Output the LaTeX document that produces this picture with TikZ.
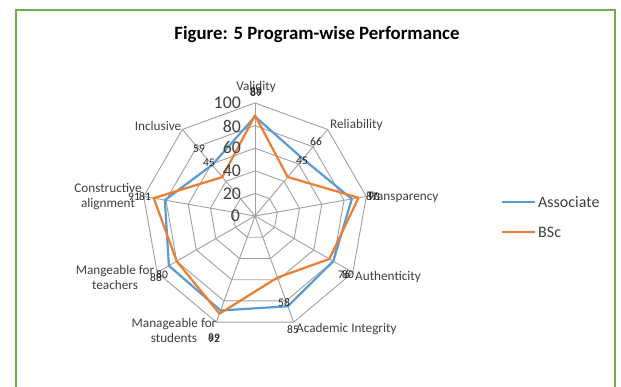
\documentclass[tikz,border=0pt]{standalone}
\usepackage{fontspec}
\setmainfont{Carlito}
\definecolor{assocblue}{RGB}{91,155,213}
\definecolor{bscorange}{RGB}{237,125,49}
\definecolor{framegreen}{RGB}{112,173,71}
\definecolor{gridgray}{RGB}{160,160,160}
\definecolor{labgray}{RGB}{64,64,64}
\begin{document}
\begin{tikzpicture}[x=1pt,y=-1pt,
  grid/.style={draw=gridgray, line width=0.9pt},
  assoc/.style={draw=assocblue, line width=2.2pt, line join=round},
  bsc/.style={draw=bscorange, line width=2.2pt, line join=round},
  cat/.style={font=\fontsize{13.2}{15}\selectfont, text=labgray, inner sep=0pt, align=center},
  tick/.style={font=\fontsize{17.8}{18}\selectfont, text=labgray, inner sep=0pt, anchor=east},
  dlab/.style={font=\fontsize{11.5}{12}\selectfont, text=black!85, inner sep=0pt},
  leg/.style={font=\fontsize{16}{18}\selectfont, text=labgray, inner sep=0pt, anchor=west},
  title/.style={font=\bfseries\fontsize{18.8}{20}\selectfont, text=black, inner sep=0pt}
]
\useasboundingbox (0,0) rectangle (621,387);
\fill[white] (0,0) rectangle (621,387);
\draw[framegreen, line width=2.5pt] (16,400) -- (16,10) -- (615,10) -- (615,400);

\node[title] (title) at (317,35) {Figure: 5 Program-wise Performance};

% centre and grid
\coordinate (O) at (255,216);
\foreach \k in {1,...,5}{
  \draw[grid] ({255+22.6*\k*cos(-90)},{216+22.6*\k*sin(-90)})
    \foreach \i in {1,...,8}{ -- ({255+22.6*\k*cos(40*\i-90)},{216+22.6*\k*sin(40*\i-90)}) } -- cycle;
}
\foreach \i in {0,...,8}{
  \coordinate (V\i) at ({255+113*cos(40*\i-90)},{216+113*sin(40*\i-90)});
  \draw[grid] (O) -- (V\i);
}

% data
\foreach \v [count=\i from 0] in {88,66,87,80,85,89,88,81,59}{
  \coordinate (A\i) at ({255+1.13*\v*cos(40*\i-90)},{216+1.13*\v*sin(40*\i-90)});
}
\foreach \v [count=\i from 0] in {89,45,93,76,58,92,80,91,45}{
  \coordinate (B\i) at ({255+1.13*\v*cos(40*\i-90)},{216+1.13*\v*sin(40*\i-90)});
}
\draw[assoc] (A0) -- (A1) -- (A2) -- (A3) -- (A4) -- (A5) -- (A6) -- (A7) -- (A8) -- cycle;
\draw[bsc] (B0) -- (B1) -- (B2) -- (B3) -- (B4) -- (B5) -- (B6) -- (B7) -- (B8) -- cycle;

% axis tick labels
\node[tick] (t100) at (241,103) {100};
\node[tick] (t80) at (241,126) {80};
\node[tick] (t60) at (241,148) {60};
\node[tick] (t40) at (241,171) {40};
\node[tick] (t20) at (241,194) {20};
\node[tick] (t0) at (240,216) {0};

% category labels
\node[cat] (cVal) at (256,87) {Validity};
\node[cat, anchor=west] (cRel) at (330,125) {Reliability};
\node[cat, anchor=west] (cTra) at (367,197) {Transparency};
\node[cat, anchor=west] (cAut) at (355,277) {Authenticity};
\node[cat, anchor=west] (cAca) at (296,329) {Academic Integrity};
\node[cat] (cStu) at (174,330) {Manageable for\\students};
\node[cat] (cTea) at (115,277) {Mangeable for\\teachers};
\node[cat] (cCon) at (108,197) {Constructive\\alignment};
\node[cat] (cInc) at (158,126) {Inclusive};

% data labels
\node[dlab] (dA0) at (256,92) {88};
\node[dlab] (dB0) at (256,93) {89};
\node[dlab] (dA1) at (316,142) {66};
\node[dlab] (dB1) at (302,161) {45};
\node[dlab] (dA2) at (372,197) {87};
\node[dlab] (dB2) at (374,197) {93};
\node[dlab] (dA3) at (348,275) {80};
\node[dlab] (dB3) at (344,275) {76};
\node[dlab] (dA4) at (293,330) {85};
\node[dlab] (dB4) at (284,303) {58};
\node[dlab] (dA5) at (214,338) {89};
\node[dlab] (dB5) at (214,339) {92};
\node[dlab] (dA6) at (156,278) {88};
\node[dlab] (dB6) at (162,275) {80};
\node[dlab] (dA7) at (145,197) {81};
\node[dlab] (dB7) at (134,197) {91};
\node[dlab] (dA8) at (199,149) {59};
\node[dlab] (dB8) at (209,163) {45};

% legend
\coordinate (LA1) at (502,202); \coordinate (LA2) at (535,202);
\coordinate (LB1) at (502,232); \coordinate (LB2) at (535,232);
\draw[assoc] (LA1) -- (LA2);
\draw[bsc] (LB1) -- (LB2);
\node[leg] (lA) at (538,202) {Associate};
\node[leg] (lB) at (538,232) {BSc};
\end{tikzpicture}
\end{document}
